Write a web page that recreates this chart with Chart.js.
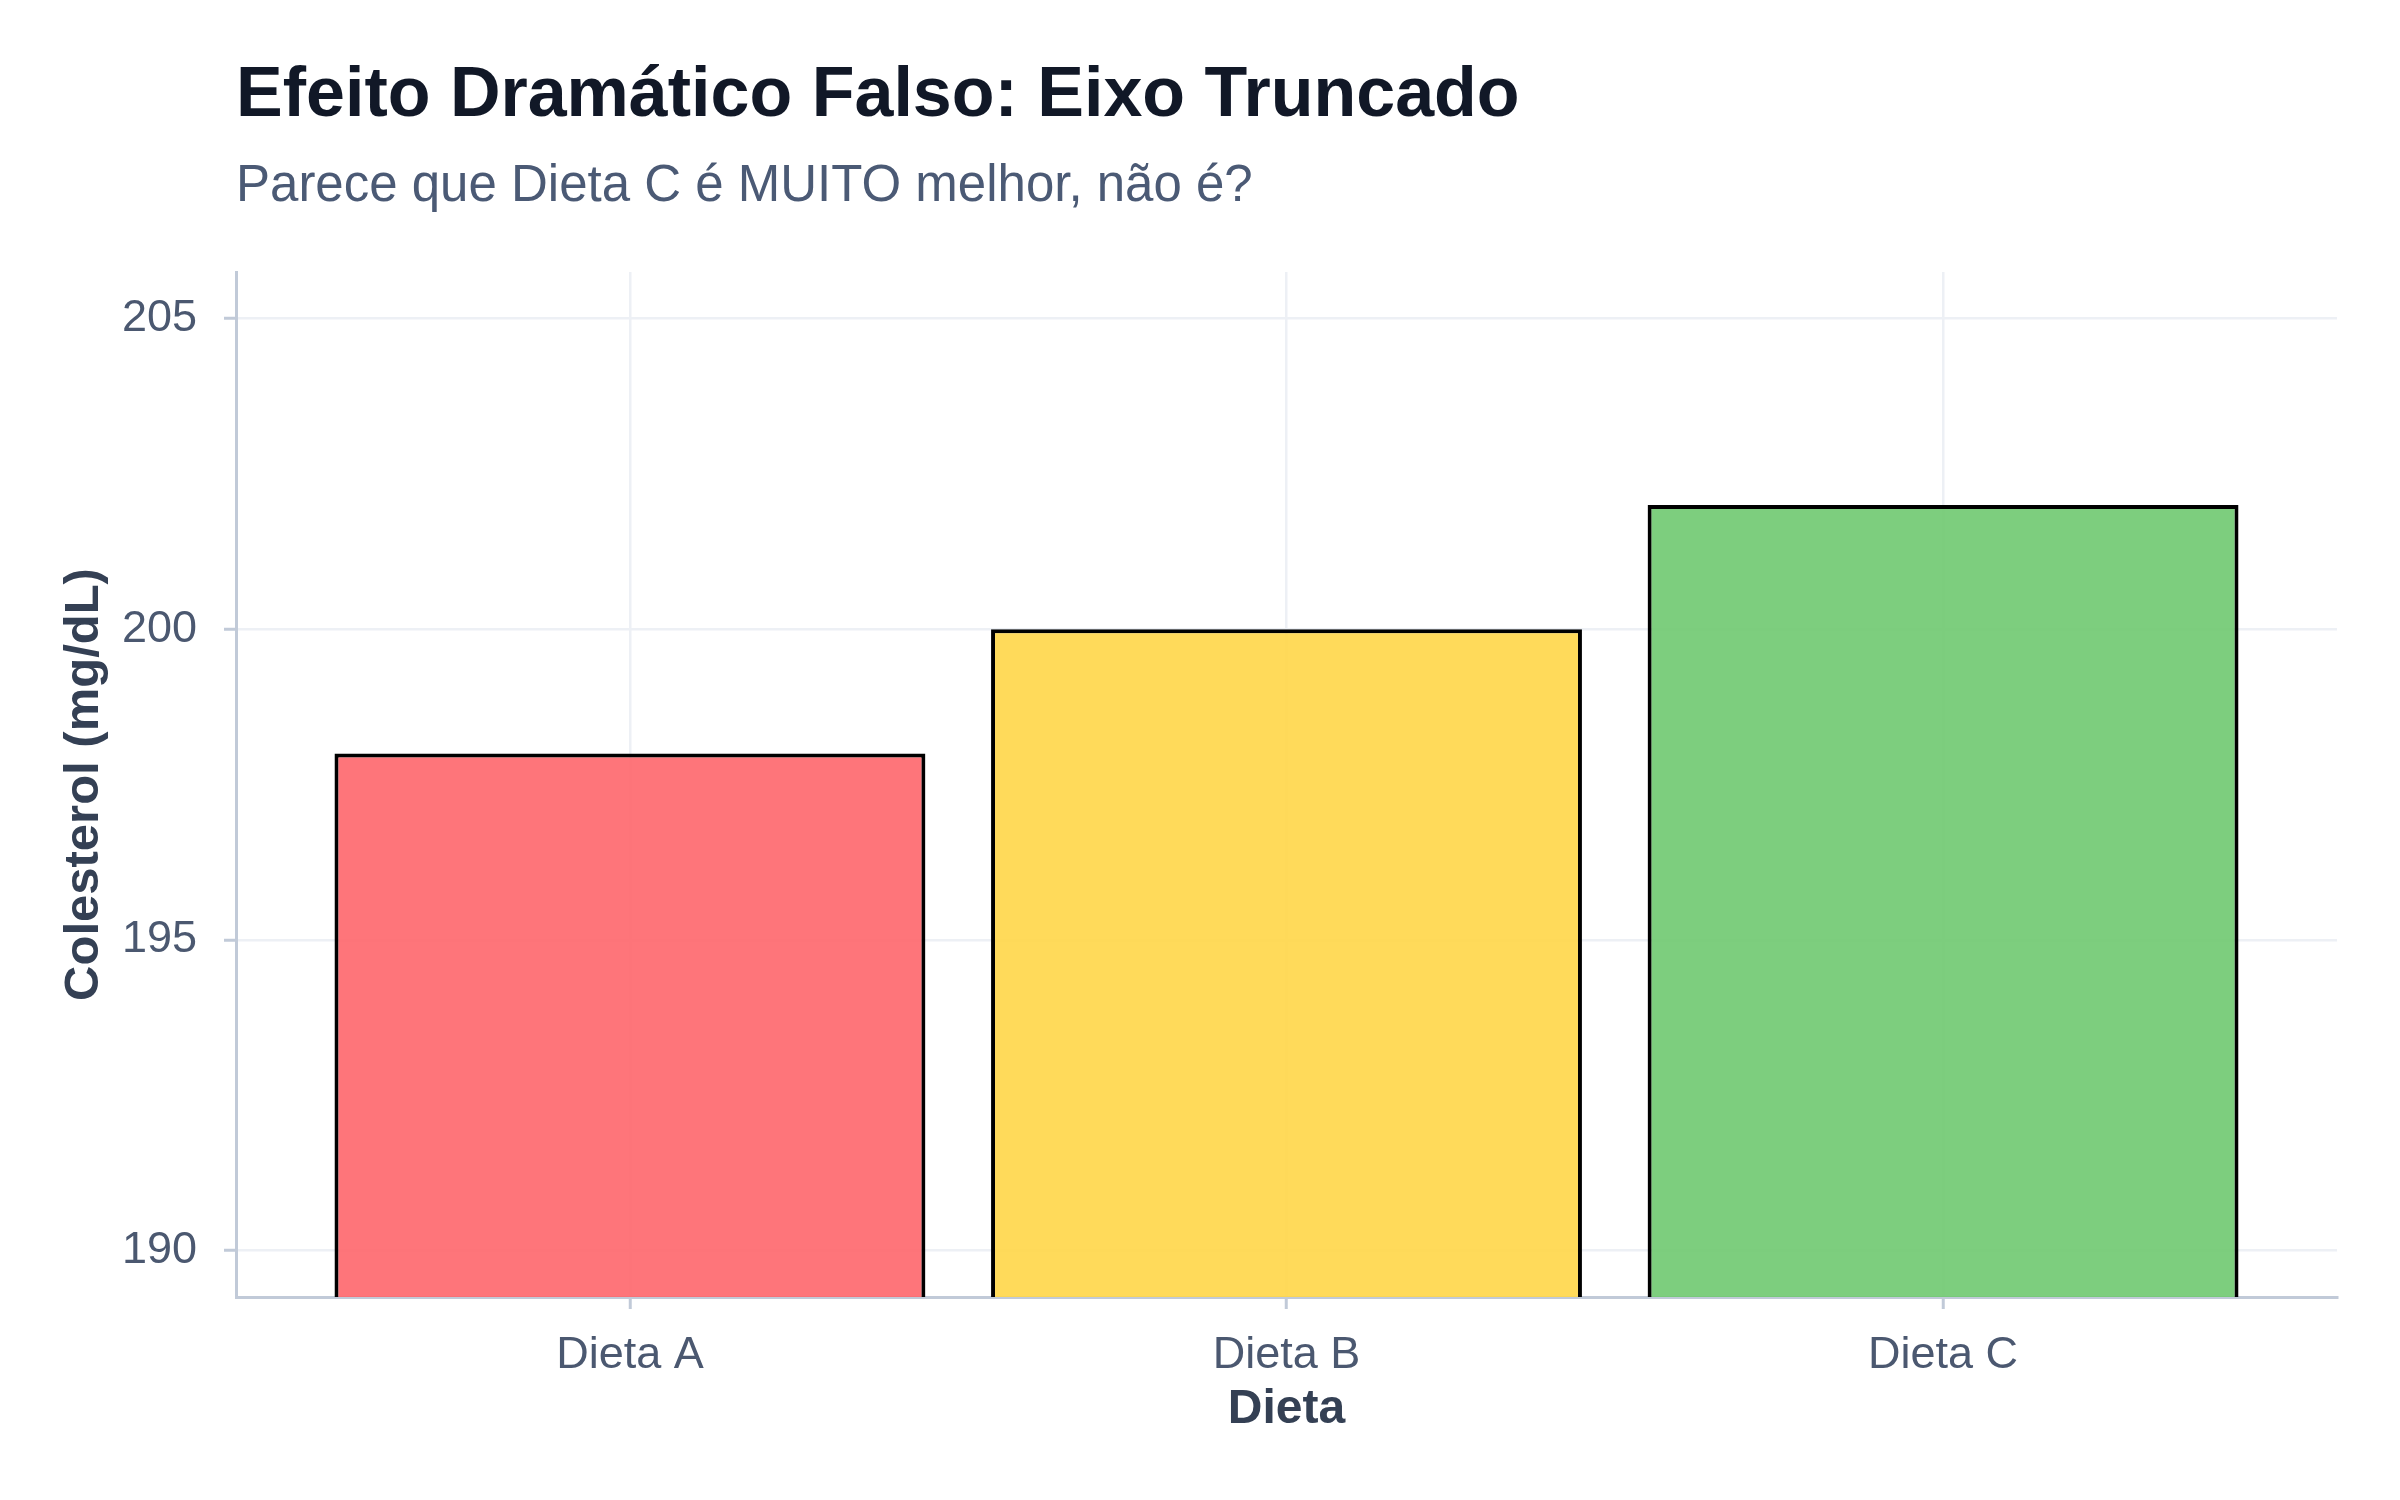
<!DOCTYPE html>
<html>
<head>
<meta charset="utf-8">
<script src="https://cdn.jsdelivr.net/npm/chart.js@4.4.1/dist/chart.umd.min.js"></script>
<style>
  html, body { margin: 0; padding: 0; background: #ffffff; }
  #wrap { width: 2400px; height: 1500px; position: relative; }
</style>
</head>
<body>
<div id="wrap"><canvas id="grafico"></canvas></div>
<script>
var dietas = ["Dieta A", "Dieta B", "Dieta C"];
var colesterol = [198, 200, 202];
var coresBarras = ["rgba(254,102,108,0.9)", "rgba(255,214,72,0.9)", "rgba(111,201,112,0.9)"];
var yTicks = [190, 195, 200, 205];
var yMin = 189.25, yMax = 205.75;

var titulo = "Efeito Dramático Falso: Eixo Truncado";
var subtitulo = "Parece que Dieta C é MUITO melhor, não é?";

var corEixo = "#c1cad8";
var corGrade = "#edf0f5";
var corTexto = "#4b5870";

// titulo e subtitulo alinhados com a borda esquerda do grafico
var tituloPlugin = {
  id: "tituloPlugin",
  afterDraw: function(chart) {
    var ctx = chart.ctx;
    var left = chart.chartArea.left;
    ctx.save();
    ctx.textAlign = "left";
    ctx.textBaseline = "alphabetic";
    ctx.fillStyle = "#111827";
    ctx.font = "bold 70px 'Liberation Sans', Arial, sans-serif";
    ctx.fillText(titulo, left, 116);
    ctx.fillStyle = "#4b5a75";
    ctx.font = "51px 'Liberation Sans', Arial, sans-serif";
    ctx.fillText(subtitulo, left, 201);
    ctx.restore();
  }
};

new Chart("grafico", {
  type: "bar",
  data: {
    datasets: [{
      data: colesterol.map(function(v, i) { return {x: i, y: v}; }),
      backgroundColor: coresBarras,
      borderColor: "#000000",
      borderWidth: 4,
      categoryPercentage: 1,
      barPercentage: 0.9
    }]
  },
  plugins: [tituloPlugin],
  options: {
    responsive: true,
    maintainAspectRatio: false,
    devicePixelRatio: 1,
    animation: false,
    layout: { padding: { top: 272, right: 63, bottom: 0, left: 0 } },
    plugins: {
      legend: { display: false },
      tooltip: { enabled: false },
      title: { display: false }
    },
    scales: {
      x: {
        type: "linear",
        offset: false,
        min: -0.6,
        max: 2.6,
        afterBuildTicks: function(scale) {
          scale.ticks = dietas.map(function(d, i) { return {value: i}; });
        },
        afterFit: function(scale) { scale.height = 203; },
        ticks: {
          callback: function(v) { return dietas[v]; },
          color: corTexto,
          padding: 20,
          font: { family: "'Liberation Sans', Arial, sans-serif", size: 45 }
        },
        grid: {
          offset: false,
          color: corGrade,
          lineWidth: 2.5,
          tickColor: corEixo,
          tickLength: 12,
          tickWidth: 3
        },
        border: { color: corEixo, width: 3 },
        title: {
          display: true,
          text: "Dieta",
          color: "#344054",
          padding: { top: 0, bottom: 66 },
          font: { family: "'Liberation Sans', Arial, sans-serif", size: 48, weight: "bold", lineHeight: 1 }
        }
      },
      y: {
        beginAtZero: false,
        min: yMin,
        max: yMax,
        afterBuildTicks: function(scale) {
          scale.ticks = yTicks.map(function(v) { return {value: v}; });
        },
        afterFit: function(scale) { scale.width = 236; },
        ticks: {
          color: corTexto,
          padding: 27,
          font: { family: "'Liberation Sans', Arial, sans-serif", size: 45 }
        },
        grid: {
          color: corGrade,
          lineWidth: 2.5,
          tickColor: corEixo,
          tickLength: 12,
          tickWidth: 3
        },
        border: { color: corEixo, width: 3 },
        title: {
          display: true,
          text: "Colesterol (mg/dL)",
          color: "#344054",
          padding: { top: 60, bottom: 0 },
          font: { family: "'Liberation Sans', Arial, sans-serif", size: 49, weight: "bold", lineHeight: 1 }
        }
      }
    }
  }
});
</script>
</body>
</html>
